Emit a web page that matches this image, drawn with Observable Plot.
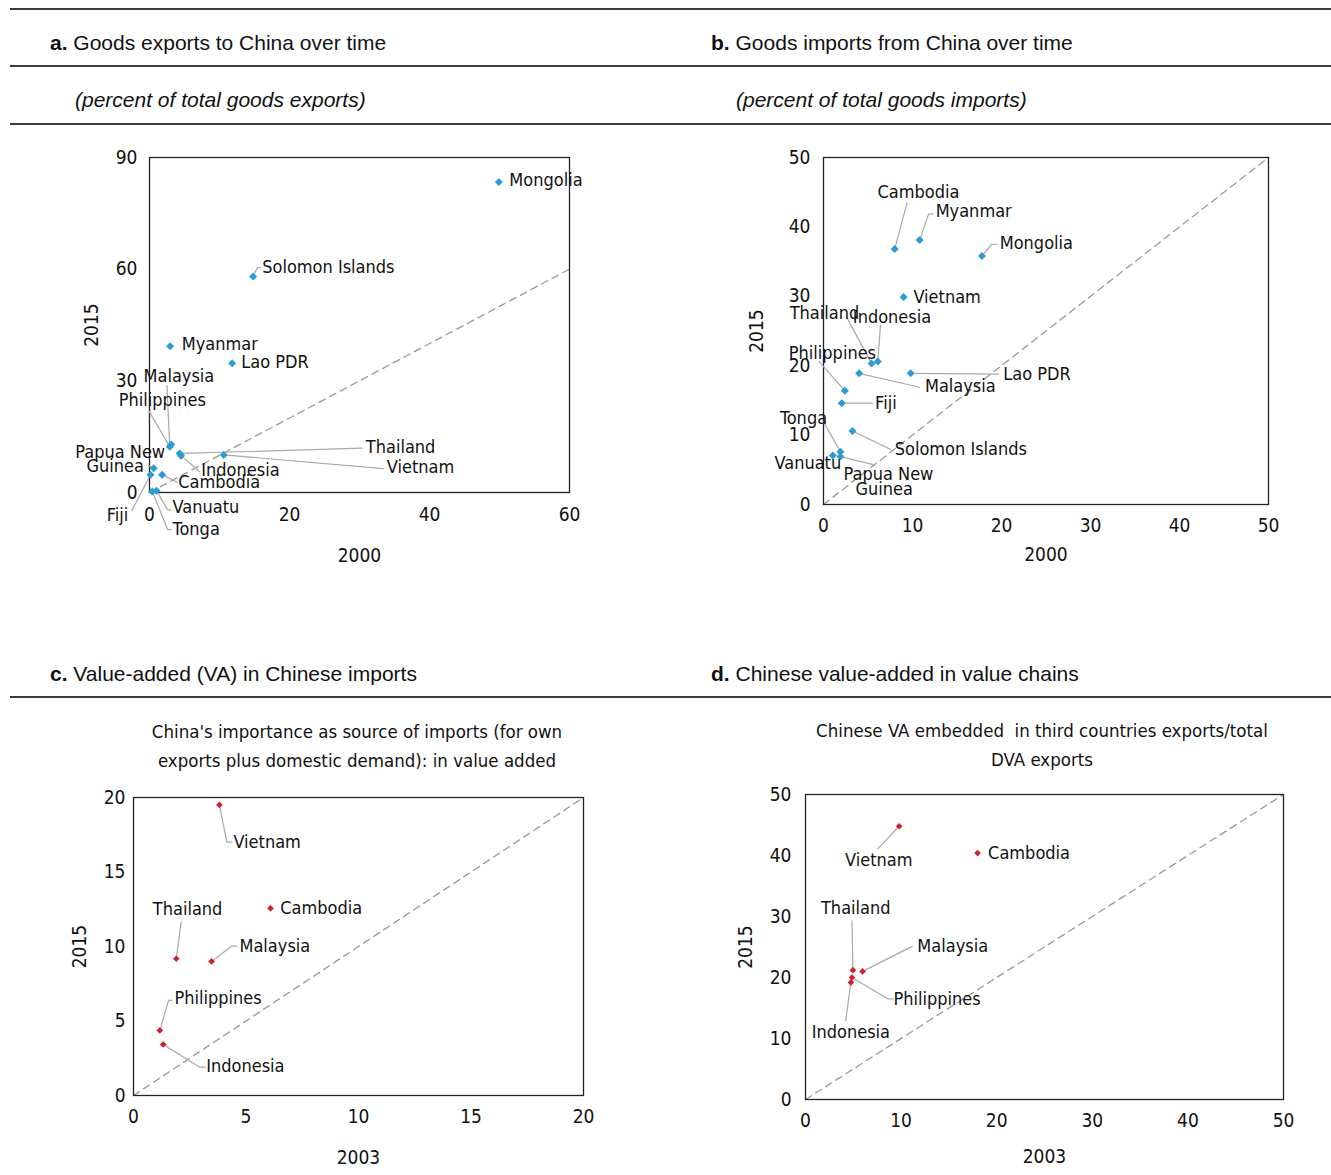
<!DOCTYPE html>
<html><head><meta charset="utf-8">
<script src="https://cdn.jsdelivr.net/npm/d3@7"></script>
<script src="https://cdn.jsdelivr.net/npm/@observablehq/plot@0.6"></script>
<style>
body{margin:0;background:#fff;}
#root{position:relative;width:1331px;height:1175px;font-family:"Liberation Sans",Arial,sans-serif;color:#111;overflow:hidden;}
.rule{position:absolute;left:10px;width:1321px;height:0;border-top:2px solid #3c3c3c;}
.title{position:absolute;font-size:21px;line-height:24px;white-space:pre;}
.sub{position:absolute;font-size:21px;font-style:italic;line-height:24px;white-space:pre;}
.csub{position:absolute;width:600px;font-family:"Liberation Sans Narrow","DejaVu Sans Condensed",sans-serif;font-size:18.5px;line-height:29px;text-align:center;white-space:pre;}
.chart{position:absolute;}
</style></head>
<body><div id="root"></div>
<script>
const FONT = '"Liberation Sans Narrow","DejaVu Sans Condensed",sans-serif';

// ---------- Panel a: Goods exports to China (2000 vs 2015) ----------
const aCountries = ["Mongolia","Solomon Islands","Myanmar","Lao PDR","Malaysia","Philippines","Thailand","Indonesia","Vietnam","Papua New Guinea","Fiji","Cambodia","Vanuatu","Tonga"];
const a2000 = [49.9,14.8,2.95,11.8,3.1,2.9,4.3,4.5,10.6,0.6,0.14,1.8,1.0,0.4];
const a2015 = [83.4,58.0,39.3,34.7,12.9,12.3,10.5,9.9,10.1,6.5,4.75,4.8,0.5,0.3];
const aLabelText = ["Mongolia","Solomon Islands","Myanmar","Lao PDR","Malaysia","Philippines","Papua New","Guinea","Thailand","Vietnam","Indonesia","Cambodia","Fiji","Vanuatu","Tonga"];
const aLabelX = [51.4,16.1,4.6,13.1,-0.86,-4.4,-10.6,-9.0,30.9,33.9,7.4,4.1,-6.1,3.3,3.3];
const aLabelY = [83.9,60.6,39.8,34.9,31.2,24.7,10.8,7.0,12.1,6.7,5.9,2.7,-6.2,-4.0,-9.9];
const aLeaders = [
  [[14.8,58.0],[15.0,58.8],[15.4,60.4],[15.8,60.4]],
  [[3.1,12.9],[2.86,13.5],[2.5,28.8]],
  [[2.9,12.3],[-0.05,21.8]],
  [[4.3,10.5],[30.4,11.9]],
  [[4.5,9.9],[7.2,5.5]],
  [[10.6,10.1],[33.4,6.4]],
  [[0.6,6.5],[-0.14,7.3]],
  [[0.14,4.75],[-2.5,-4.8]],
  [[1.8,4.8],[3.96,2.77]],
  [[1.0,0.5],[2.6,-4.65],[3.1,-4.65]],
  [[0.4,0.3],[2.6,-10.0],[3.1,-10.0]]
];
const aXTicks = [0,20,40,60];
const aYTicks = [0,30,60,90];

// ---------- Panel b: Goods imports from China (2000 vs 2015) ----------
const bCountries = ["Cambodia","Myanmar","Mongolia","Vietnam","Thailand","Indonesia","Malaysia","Lao PDR","Philippines","Fiji","Solomon Islands","Vanuatu","Tonga","Papua New Guinea"];
const b2000 = [8.0,10.8,17.8,9.0,5.4,6.1,4.0,9.8,2.4,2.05,3.25,1.05,1.9,1.9];
const b2015 = [36.8,38.1,35.8,29.9,20.3,20.6,18.9,18.9,16.4,14.6,10.6,7.06,7.6,6.9];
const bLabelText = ["Cambodia","Myanmar","Mongolia","Vietnam","Thailand","Indonesia","Philippines","Lao PDR","Malaysia","Fiji","Tonga","Solomon Islands","Vanuatu","Papua New","Guinea"];
const bLabelX = [6.07,12.6,19.8,10.1,-3.8,3.3,-3.9,20.2,11.4,5.8,-4.9,8.0,-5.5,2.25,3.6];
const bLabelY = [45.0,42.2,37.6,29.9,27.5,27.0,21.8,18.8,17.0,14.6,12.5,7.9,5.9,4.3,2.16];
const bLeaders = [
  [[8.0,36.8],[9.37,43.4]],
  [[10.8,38.1],[11.8,41.8],[12.3,41.9]],
  [[17.8,35.8],[18.9,37.5],[19.5,37.5]],
  [[5.4,20.3],[2.6,27.0]],
  [[6.1,20.6],[6.4,25.8]],
  [[2.4,16.4],[-0.5,20.6]],
  [[4.0,18.9],[10.8,16.9]],
  [[9.8,18.9],[19.7,18.8]],
  [[2.05,14.6],[5.5,14.6]],
  [[3.25,10.6],[7.6,7.9]],
  [[1.9,7.6],[0,11.9]],
  [[1.9,6.9],[5.7,5.7]]
];
const bXTicks = [0,10,20,30,40,50];
const bYTicks = [0,10,20,30,40,50];

// ---------- Panel c: China's importance as source of imports, VA (2003 vs 2015) ----------
const cCountries = ["Vietnam","Cambodia","Thailand","Malaysia","Philippines","Indonesia"];
const c2003 = [3.82,6.09,1.90,3.47,1.17,1.32];
const c2015 = [19.5,12.56,9.18,9.0,4.37,3.43];
const cLabelText = ["Vietnam","Cambodia","Thailand","Malaysia","Philippines","Indonesia"];
const cLabelX = [4.44,6.52,0.86,4.71,1.82,3.23];
const cLabelY = [17.0,12.6,12.5,10.0,6.5,1.95];
const cLeaders = [
  [[3.82,19.5],[4.15,17.0],[4.37,17.0]],
  [[1.9,9.18],[2.12,11.65]],
  [[3.47,9.0],[4.37,10.03],[4.59,10.03]],
  [[1.17,4.37],[1.56,6.38],[1.7,6.38]],
  [[1.32,3.43],[2.96,1.9],[3.19,1.9]]
];
const cXTicks = [0,5,10,15,20];
const cYTicks = [0,5,10,15,20];

// ---------- Panel d: Chinese VA embedded in third countries' exports (2003 vs 2015) ----------
const dCountries = ["Vietnam","Cambodia","Thailand","Malaysia","Philippines","Indonesia"];
const d2003 = [9.8,18.0,4.96,5.97,4.86,4.75];
const d2015 = [44.8,40.4,21.2,21.0,20.0,19.2];
const dLabelText = ["Vietnam","Cambodia","Thailand","Malaysia","Philippines","Indonesia"];
const dLabelX = [4.14,19.1,1.62,11.7,9.2,0.65];
const dLabelY = [39.3,40.4,31.3,25.1,16.5,11.1];
const dLeaders = [
  [[9.8,44.8],[7.55,41.1]],
  [[4.96,21.2],[4.86,29.3]],
  [[5.97,21.0],[11.15,25.1]],
  [[4.86,20.0],[8.6,16.5],[9.2,16.5]],
  [[4.75,19.2],[4.2,12.9]]
];
const dXTicks = [0,10,20,30,40,50];
const dYTicks = [0,10,20,30,40,50];

// ---------- helpers ----------
function makePanel(cfg) {
  const pts = cfg.countries.map((c, i) => ({country: c, x: cfg.xs[i], y: cfg.ys[i]}));
  const labs = cfg.labelText.map((t, i) => ({text: t, x: cfg.lx[i], y: cfg.ly[i]}));
  const lead = cfg.leaders.flatMap((path, id) => path.map(([x, y]) => ({id, x, y})));
  const xMax = cfg.xTicks[cfg.xTicks.length - 1];
  const yMax = cfg.yTicks[cfg.yTicks.length - 1];
  const dMax = Math.min(xMax, yMax);
  const diag = [{x: 0, y: 0}, {x: dMax, y: dMax}];
  return Plot.plot({
    width: cfg.width, height: cfg.height,
    marginLeft: cfg.ml, marginRight: cfg.mr, marginTop: cfg.mt, marginBottom: cfg.mb,
    x: {domain: [0, xMax]},
    y: {domain: [0, yMax]},
    style: {fontFamily: FONT, fontSize: "19px", color: "#111", background: "transparent", overflow: "visible"},
    marks: [
      Plot.line(diag, {x: "x", y: "y", stroke: "#9a9a9a", strokeWidth: 1.3, strokeDasharray: "7,5"}),
      Plot.frame({stroke: "#222", strokeWidth: 1.3}),
      Plot.line(lead, {x: "x", y: "y", z: "id", stroke: "#a9a9a9", strokeWidth: 1.2}),
      Plot.dot(pts, {x: "x", y: "y", symbol: "diamond2", r: cfg.r, fill: cfg.color, stroke: null}),
      Plot.text(labs, {x: "x", y: "y", text: "text", textAnchor: "start", lineAnchor: "middle", fontSize: 18, fill: "#111"}),
      Plot.axisX({ticks: cfg.xTicks, tickSize: 0, tickPadding: cfg.xPad, tickFormat: d => String(d), label: cfg.xLabel, labelAnchor: "center", labelArrow: "none", labelOffset: cfg.xLabOff, fontSize: 19}),
      Plot.axisY({ticks: cfg.yTicks, tickSize: 0, tickPadding: cfg.yPad, tickFormat: d => String(d), label: cfg.yLabel, labelAnchor: "center", labelArrow: "none", labelOffset: cfg.yLabOff, fontSize: 19})
    ]
  });
}

const root = document.getElementById("root");
function addDiv(cls, css, html) {
  const d = document.createElement("div");
  d.className = cls;
  d.style.cssText = css;
  d.innerHTML = html;
  root.appendChild(d);
  return d;
}
[9, 66, 124, 697].forEach(y => addDiv("rule", `top:${y - 1}px;`, ""));
addDiv("title", "left:50px;top:31px;", "<b>a.</b> Goods exports to China over time");
addDiv("title", "left:711px;top:31px;", "<b>b.</b> Goods imports from China over time");
addDiv("sub", "left:75px;top:88px;", "(percent of total goods exports)");
addDiv("sub", "left:736px;top:88px;", "(percent of total goods imports)");
addDiv("title", "left:50px;top:662px;", "<b>c.</b> Value-added (VA) in Chinese imports");
addDiv("title", "left:711px;top:662px;", "<b>d.</b> Chinese value-added in value chains");
addDiv("csub", "left:57px;top:717px;", "China's importance as source of imports (for own\nexports plus domestic demand): in value added");
addDiv("csub", "left:742px;top:716px;", "Chinese VA embedded  in third countries exports/total\nDVA exports");

const BLUE = "#2b9bd1", RED = "#cf2130";
const panels = [
  {left: 0, top: 130, width: 660, height: 450, ml: 149, mr: 91, mt: 27, mb: 88,
   countries: aCountries, xs: a2000, ys: a2015, labelText: aLabelText, lx: aLabelX, ly: aLabelY, leaders: aLeaders,
   xTicks: aXTicks, yTicks: aYTicks, color: BLUE, r: 3.6, xLabel: "2000", yLabel: "2015",
   xPad: 15, yPad: 12, xLabOff: 69, yLabOff: 65},
  {left: 680, top: 130, width: 651, height: 450, ml: 143, mr: 63, mt: 27, mb: 76,
   countries: bCountries, xs: b2000, ys: b2015, labelText: bLabelText, lx: bLabelX, ly: bLabelY, leaders: bLeaders,
   xTicks: bXTicks, yTicks: bYTicks, color: BLUE, r: 3.6, xLabel: "2000", yLabel: "2015",
   xPad: 14, yPad: 13, xLabOff: 56, yLabOff: 74},
  {left: 0, top: 780, width: 660, height: 395, ml: 133, mr: 77, mt: 17, mb: 80,
   countries: cCountries, xs: c2003, ys: c2015, labelText: cLabelText, lx: cLabelX, ly: cLabelY, leaders: cLeaders,
   xTicks: cXTicks, yTicks: cYTicks, color: RED, r: 3, xLabel: "2003", yLabel: "2015",
   xPad: 14, yPad: 8, xLabOff: 68, yLabOff: 61},
  {left: 680, top: 780, width: 651, height: 395, ml: 125, mr: 48, mt: 14, mb: 76,
   countries: dCountries, xs: d2003, ys: d2015, labelText: dLabelText, lx: dLabelX, ly: dLabelY, leaders: dLeaders,
   xTicks: dXTicks, yTicks: dYTicks, color: RED, r: 3, xLabel: "2003", yLabel: "2015",
   xPad: 14, yPad: 14, xLabOff: 63, yLabOff: 67}
];
panels.forEach(cfg => {
  const svg = makePanel(cfg);
  const wrap = document.createElement("div");
  wrap.className = "chart";
  wrap.style.left = cfg.left + "px";
  wrap.style.top = cfg.top + "px";
  wrap.appendChild(svg);
  root.appendChild(wrap);
});
</script>
</body></html>
